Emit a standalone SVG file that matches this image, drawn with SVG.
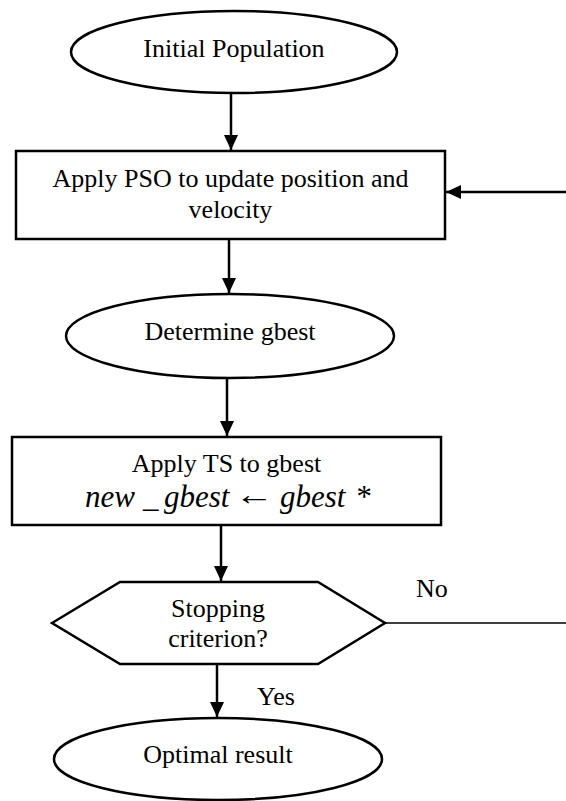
<svg xmlns="http://www.w3.org/2000/svg" width="566" height="801" viewBox="0 0 566 801">
  <style>
    .shape { fill: #ffffff; stroke: #000000; stroke-width: 2.5; }
    .edge { fill: none; stroke: #000000; stroke-width: 2.5; }
    .thin { fill: none; stroke: #000000; stroke-width: 1.5; }
    .label { font-family: "Liberation Serif", "Times New Roman", serif; font-size: 26px; fill: #000000; }
    .mid { text-anchor: middle; }
    .math { font-family: "Liberation Serif", "Times New Roman", serif; font-size: 31px; font-style: italic; fill: #000000; }
  </style>
  <defs>
    <marker id="arrow" markerUnits="userSpaceOnUse" markerWidth="16" markerHeight="14" refX="15" refY="7" orient="auto">
      <path d="M0,0 L15,7 L0,14 Z" fill="#000000"/>
    </marker>
  </defs>

  <rect width="566" height="801" fill="#ffffff"/>

  <!-- connectors -->
  <g id="connectors">
    <line class="edge" x1="231" y1="93" x2="231" y2="150" marker-end="url(#arrow)"/>
    <line class="edge" x1="566" y1="192" x2="446" y2="192" marker-end="url(#arrow)"/>
    <line class="edge" x1="229" y1="240" x2="229" y2="293" marker-end="url(#arrow)"/>
    <line class="edge" x1="227" y1="379" x2="227" y2="436" marker-end="url(#arrow)"/>
    <line class="edge" x1="221" y1="526" x2="221" y2="581" marker-end="url(#arrow)"/>
    <line class="edge" x1="217" y1="665" x2="217" y2="717" marker-end="url(#arrow)"/>
    <line class="thin" x1="385" y1="623" x2="566" y2="623"/>
    <text class="label" x="416" y="597">No</text>
    <text class="label" x="257" y="705">Yes</text>
  </g>

  <!-- start -->
  <g id="initial-population">
    <ellipse class="shape" cx="234" cy="52" rx="163" ry="41"/>
    <text class="label mid" x="234" y="57">Initial Population</text>
  </g>

  <!-- PSO update step -->
  <g id="apply-pso">
    <rect class="shape" x="16" y="151" width="429" height="88"/>
    <text class="label mid" x="230.5" y="187">Apply PSO to update position and</text>
    <text class="label mid" x="230.5" y="218">velocity</text>
  </g>

  <g id="determine-gbest">
    <ellipse class="shape" cx="230" cy="336" rx="164" ry="42"/>
    <text class="label mid" x="230" y="340">Determine gbest</text>
  </g>

  <!-- tabu search refinement -->
  <g id="apply-ts">
    <rect class="shape" x="12" y="437" width="429" height="88"/>
    <text class="label mid" x="226.5" y="472">Apply TS to gbest</text>
    <text class="math" x="85" y="507">new</text>
    <text class="math" x="143" y="507">_</text>
    <text class="math" x="164" y="507">gbest</text>
    <text class="math" x="235" y="505" font-style="normal" textLength="39" lengthAdjust="spacingAndGlyphs">←</text>
    <text class="math" x="280" y="507">gbest</text>
    <text class="math" x="355" y="507" font-style="normal">*</text>
  </g>

  <g id="stopping-criterion">
    <polygon class="shape" points="52,623 120,582 318,582 385,623 318,664 120,664"/>
    <text class="label mid" x="218" y="617">Stopping</text>
    <text class="label mid" x="218" y="647">criterion?</text>
  </g>

  <g id="optimal-result">
    <ellipse class="shape" cx="218" cy="759" rx="164" ry="41"/>
    <text class="label mid" x="218" y="763">Optimal result</text>
  </g>
</svg>
